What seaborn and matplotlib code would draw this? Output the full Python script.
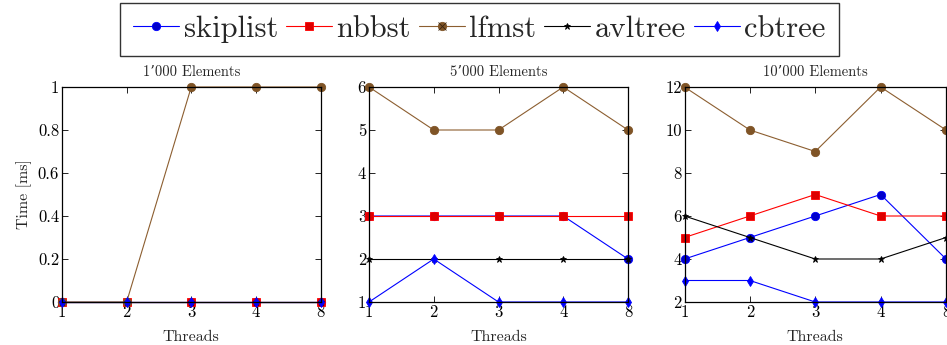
import matplotlib
matplotlib.use("Agg")
import matplotlib.pyplot as plt
import seaborn as sns
import pandas as pd
from matplotlib.lines import Line2D
from matplotlib.ticker import FuncFormatter

# Thread counts (plotted at evenly spaced positions)
threads = [1, 2, 3, 4, 8]
panel_titles = ["1\u2019000 Elements", "5\u2019000 Elements", "10\u2019000 Elements"]
structures = ["skiplist", "nbbst", "lfmst", "avltree", "cbtree"]

# Time [ms] per structure, one list per element count
skiplist_1k = [0, 0, 0, 0, 0]
nbbst_1k = [0, 0, 0, 0, 0]
lfmst_1k = [0, 0, 1, 1, 1]
avltree_1k = [0, 0, 0, 0, 0]
cbtree_1k = [0, 0, 0, 0, 0]

skiplist_5k = [3, 3, 3, 3, 2]
nbbst_5k = [3, 3, 3, 3, 3]
lfmst_5k = [6, 5, 5, 6, 5]
avltree_5k = [2, 2, 2, 2, 2]
cbtree_5k = [1, 2, 1, 1, 1]

skiplist_10k = [4, 5, 6, 7, 4]
nbbst_10k = [5, 6, 7, 6, 6]
lfmst_10k = [12, 10, 9, 12, 10]
avltree_10k = [6, 5, 4, 4, 5]
cbtree_10k = [3, 3, 2, 2, 2]

y_limits = [(0, 1), (1, 6), (2, 12)]
y_ticks = [[0, 0.2, 0.4, 0.6, 0.8, 1], [1, 2, 3, 4, 5, 6], [2, 4, 6, 8, 10, 12]]

series = [
    {"skiplist": skiplist_1k, "nbbst": nbbst_1k, "lfmst": lfmst_1k,
     "avltree": avltree_1k, "cbtree": cbtree_1k},
    {"skiplist": skiplist_5k, "nbbst": nbbst_5k, "lfmst": lfmst_5k,
     "avltree": avltree_5k, "cbtree": cbtree_5k},
    {"skiplist": skiplist_10k, "nbbst": nbbst_10k, "lfmst": lfmst_10k,
     "avltree": avltree_10k, "cbtree": cbtree_10k},
]

styles = {
    "skiplist": dict(color="#0000FF", marker="o", markersize=6,
                     markerfacecolor="#0000CC", markeredgecolor="#0000FF"),
    "nbbst": dict(color="#FF0000", marker="s", markersize=6,
                  markerfacecolor="#DD0000", markeredgecolor="#FF0000"),
    "lfmst": dict(color="#8C5E30", marker="o", markersize=6,
                  markerfacecolor="#7F5426", markeredgecolor="#7F5426"),
    "avltree": dict(color="#000000", marker="*", markersize=5,
                    markerfacecolor="#000000", markeredgecolor="#000000"),
    "cbtree": dict(color="#0000FF", marker="d", markersize=5,
                   markerfacecolor="#0000FF", markeredgecolor="#0000FF"),
}

sns.set_style("ticks")
plt.rcParams["font.family"] = ["cmr10", "DejaVu Serif"]
plt.rcParams["axes.formatter.use_mathtext"] = True
plt.rcParams["mathtext.fontset"] = "cm"

fig = plt.figure(figsize=(9.47, 3.45), dpi=100)

axes_boxes = [
    (62 / 947, 1 - 302 / 345, 258.5 / 947, 215 / 345),
    (369 / 947, 1 - 302 / 345, 259 / 947, 215 / 345),
    (684.5 / 947, 1 - 302 / 345, 261.5 / 947, 215 / 345),
]

positions = list(range(len(threads)))

for i, box in enumerate(axes_boxes):
    ax = fig.add_axes(box)
    for name in structures:
        df = pd.DataFrame({"pos": positions, "time": series[i][name]})
        st = styles[name]
        sns.lineplot(data=df, x="pos", y="time", ax=ax, label=name,
                     color=st["color"], marker=st["marker"],
                     markersize=st["markersize"],
                     markerfacecolor=st["markerfacecolor"],
                     markeredgecolor=st["markeredgecolor"],
                     markeredgewidth=0.6, linewidth=0.8, clip_on=False,
                     legend=False)
    ax.set_xlim(0, len(threads) - 1)
    ax.set_ylim(*y_limits[i])
    ax.set_xticks(positions)
    ax.set_xticklabels([str(t) for t in threads])
    ax.set_yticks(y_ticks[i])
    ax.yaxis.set_major_formatter(FuncFormatter(lambda v, p: f"{v:g}"))
    ax.tick_params(direction="in", length=4, width=0.6, labelsize=12,
                   top=True, right=True, pad=2, colors="black")
    for sp in ax.spines.values():
        sp.set_visible(True)
        sp.set_color("black")
        sp.set_linewidth(0.9)
    ax.set_title(panel_titles[i], fontsize=10.5, pad=8)
    ax.set_xlabel("Threads", fontsize=11.5, labelpad=7)
    if i == 0:
        ax.set_ylabel("Time [ms]", fontsize=11.5, labelpad=4)
    else:
        ax.set_ylabel("")
    if i == 0:
        handles, labels = ax.get_legend_handles_labels()

# lfmst legend entry uses a crossed circle
cross = Line2D([], [], linestyle="none", marker="x", markersize=5.5,
               markeredgecolor="#3A2510", markeredgewidth=0.6)
handles[2] = (handles[2], cross)

leg = fig.legend(handles, labels, loc="upper center", ncol=5,
                 bbox_to_anchor=(0.5063, 0.992), fontsize=22,
                 frameon=True, fancybox=False, edgecolor="black",
                 handlelength=1.5, handletextpad=0.16, columnspacing=0.25,
                 borderpad=0.42, borderaxespad=0.0)
leg.get_frame().set_linewidth(1.0)

fig.savefig("out.png", dpi=100)
